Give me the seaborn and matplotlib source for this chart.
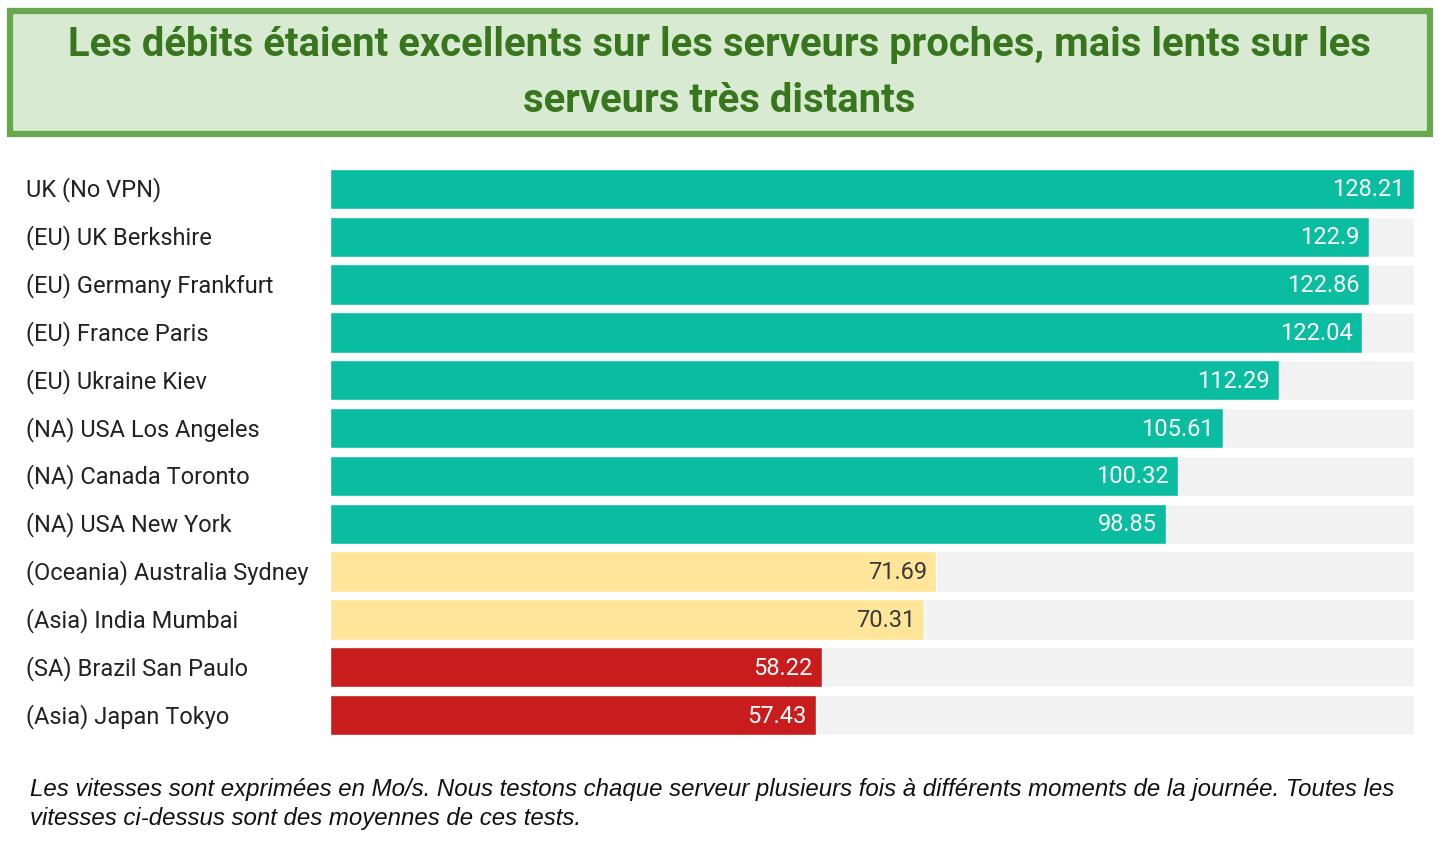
import matplotlib
matplotlib.use("Agg")
import matplotlib.pyplot as plt
import seaborn as sns
import pandas as pd
from matplotlib.patches import FancyBboxPatch

servers = ["UK (No VPN)", "(EU) UK Berkshire", "(EU) Germany Frankfurt", "(EU) France Paris",
           "(EU) Ukraine Kiev", "(NA) USA Los Angeles", "(NA) Canada Toronto", "(NA) USA New York",
           "(Oceania) Australia Sydney", "(Asia) India Mumbai", "(SA) Brazil San Paulo", "(Asia) Japan Tokyo"]
speeds = [128.21, 122.9, 122.86, 122.04, 112.29, 105.61, 100.32, 98.85, 71.69, 70.31, 58.22, 57.43]
tiers = ["fast"] * 8 + ["medium"] * 2 + ["slow"] * 2
tier_colors = {"fast": "#0bbda0", "medium": "#ffe59a", "slow": "#c81c1d"}
label_colors = {"fast": "white", "medium": "#3a3a3a", "slow": "white"}

title = "Les débits étaient excellents sur les serveurs proches, mais lents sur les\nserveurs très distants"
footnote = ("Les vitesses sont exprimées en Mo/s. Nous testons chaque serveur plusieurs fois à différents moments de la journée. Toutes les\n"
            "vitesses ci-dessus sont des moyennes de ces tests.")

sns.set_theme(style="white")
plt.rcParams['font.family'] = ['Roboto', 'DejaVu Sans']

df = pd.DataFrame({"server": servers, "speed": speeds, "tier": tiers})
vmax = max(speeds)
df["full"] = vmax

fig = plt.figure(figsize=(14.39, 8.45), dpi=100)
ax = fig.add_axes([330 / 1439, 1 - 740 / 845, (1414 - 330) / 1439, (740 - 166) / 845])

sns.barplot(data=df, x="full", y="server", color="#f2f2f2", width=0.84, ax=ax, saturation=1)
sns.barplot(data=df, x="speed", y="server", hue="tier", palette=tier_colors, width=0.84,
            dodge=False, ax=ax, saturation=1, legend=False)

ax.set_xlim(0, vmax)
ax.set_xlabel("")
ax.set_ylabel("")
ax.set_xticks([])
for s in ax.spines.values():
    s.set_visible(False)
ax.tick_params(axis="y", length=0, pad=0)
ax.set_yticks(range(len(servers)))
ax.set_yticklabels([])
for i, name in enumerate(servers):
    ax.text(-304 / 1084 * vmax, i, name, ha="left", va="center", fontsize=17, color="#222222")

for i, (v, t) in enumerate(zip(speeds, tiers)):
    ax.text(v - 1.1, i, f"{v:g}", ha="right", va="center", fontsize=17, color=label_colors[t])

# title box
box = FancyBboxPatch((10 / 1439, 1 - 135 / 845), (1430 - 10) / 1439, (135 - 12) / 845,
                     boxstyle="square,pad=0", transform=fig.transFigure,
                     facecolor="#d9ead3", edgecolor="#6aa84f", linewidth=4.5, zorder=0)
fig.patches.append(box)
fig.text(0.5, 1 - 73 / 845, title, ha="center", va="center", fontsize=28.8, fontweight="bold",
         color="#38761d", linespacing=1.6)

fig.text(30 / 1439, 1 - 804 / 845, footnote, ha="left", va="center", fontsize=17.3, style="italic",
         family=["Liberation Sans", "DejaVu Sans"], color="#111111", linespacing=1.34)

fig.savefig("out.png", dpi=100, facecolor="white")
